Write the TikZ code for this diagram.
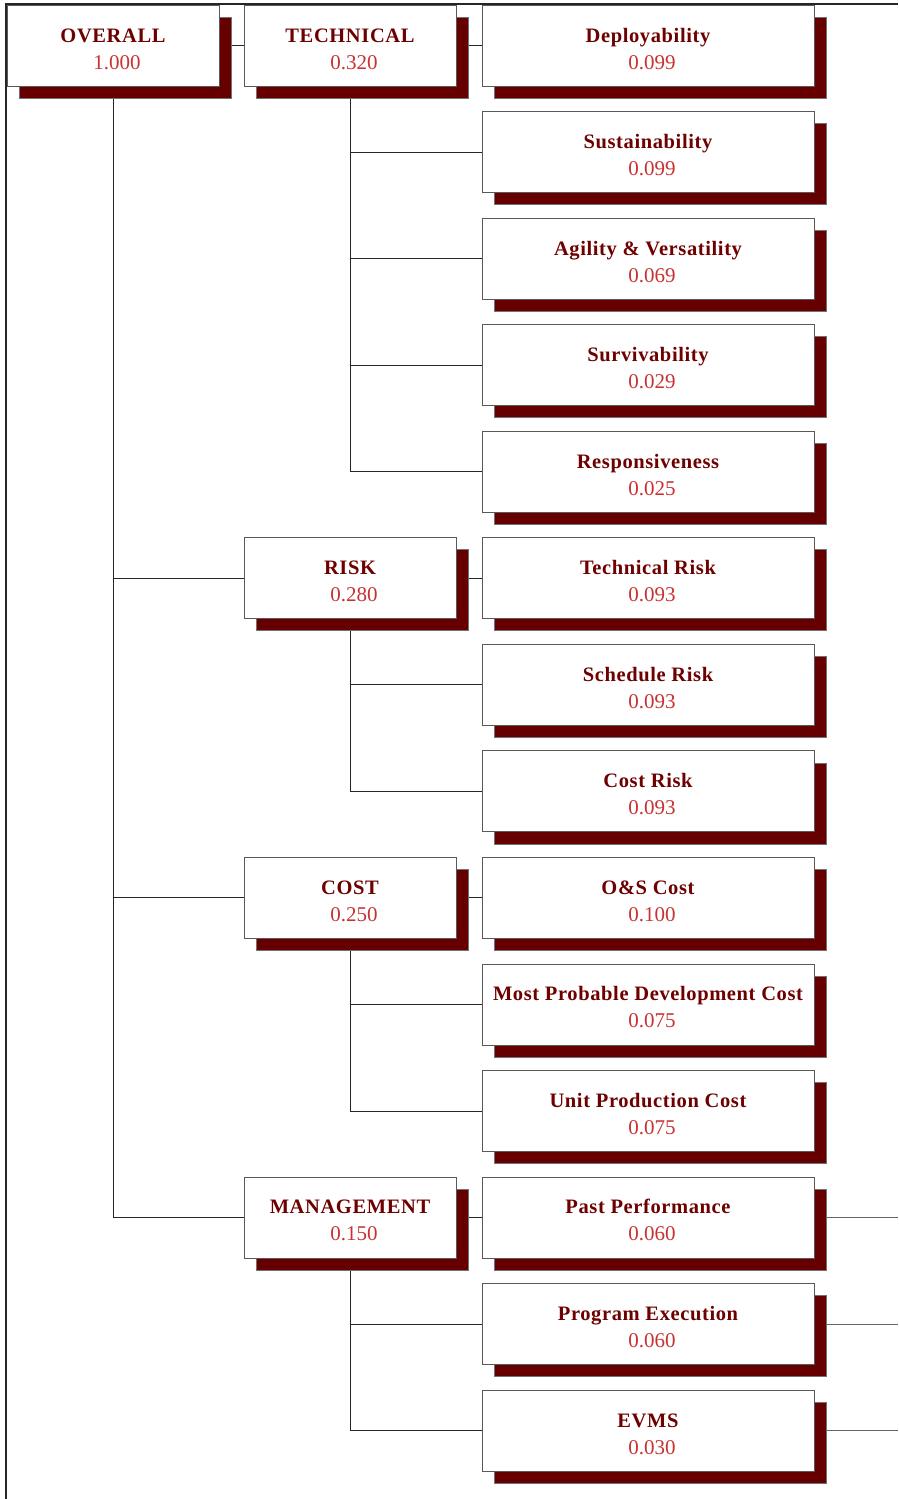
\documentclass[tikz,border=0pt]{standalone}
\usepackage{fontspec}
\setmainfont{Liberation Serif}
\newfontfamily\titfont[LetterSpace=3]{Liberation Serif}
\usetikzlibrary{shadows,calc,backgrounds}
\definecolor{titred}{HTML}{6E0000}
\definecolor{valred}{HTML}{C83232}
\definecolor{shadred}{HTML}{660000}
\tikzset{
 boxst/.style={draw=black!65, line width=0.8pt, fill=white, rectangle, minimum height=81pt, inner sep=0pt, outer sep=0pt,
   general shadow={fill=shadred, draw=black!55, line width=0.6pt, shadow xshift=12pt, shadow yshift=-12pt}},
 titst/.style={font=\titfont\fontsize{20.5}{24}\selectfont\bfseries, text=titred, inner sep=0pt, anchor=base},
 valst/.style={font=\fontsize{21}{24}\selectfont, text=valred, inner sep=0pt, anchor=base},
 conn/.style={draw=black!85, line width=0.8pt},
 framest/.style={draw=black!85, line width=1.4pt},
}
\newcommand\mkbox[6]{%
 \node[boxst, minimum width=#4pt, anchor=north west] (#1) at (#2,#3) {};
 \node[titst] (#1-t) at ($(#1.north)+(0,37)$) {#5};
 \node[valst] (#1-v) at ($(#1.north)+(4,64)$) {#6};
}
\begin{document}
\begin{tikzpicture}[x=1pt,y=-1pt]
\useasboundingbox (0,0) rectangle (898,1499);
\draw[framest] (6,1499) -- (6,4) -- (898,4);
\coordinate (redge) at (898,0);
% level 1
\mkbox{ov}{7}{5}{212}{OVERALL}{1.000}
% level 2
\mkbox{tech}{244}{5}{212}{TECHNICAL}{0.320}
\mkbox{risk}{244}{537.7}{212}{RISK}{0.280}
\mkbox{cost}{244}{857.3}{212}{COST}{0.250}
\mkbox{mgmt}{244}{1176.9}{212}{MANAGEMENT}{0.150}
% level 3
\mkbox{dep}{482}{5}{332}{Deployability}{0.099}
\mkbox{sus}{482}{111.5}{332}{Sustainability}{0.099}
\mkbox{agi}{482}{218.1}{332}{Agility \& Versatility}{0.069}
\mkbox{sur}{482}{324.6}{332}{Survivability}{0.029}
\mkbox{res}{482}{431.2}{332}{Responsiveness}{0.025}
\mkbox{trisk}{482}{537.7}{332}{Technical Risk}{0.093}
\mkbox{srisk}{482}{644.2}{332}{Schedule Risk}{0.093}
\mkbox{crisk}{482}{750.8}{332}{Cost Risk}{0.093}
\mkbox{os}{482}{857.3}{332}{O\&S Cost}{0.100}
\mkbox{mpdc}{482}{963.9}{332}{Most Probable Development Cost}{0.075}
\mkbox{upc}{482}{1070.4}{332}{Unit Production Cost}{0.075}
\mkbox{pp}{482}{1176.9}{332}{Past Performance}{0.060}
\mkbox{pe}{482}{1283.5}{332}{Program Execution}{0.060}
\mkbox{evms}{482}{1390}{332}{EVMS}{0.030}
\begin{pgfonlayer}{background}
 \draw[conn] (ov.east) -- (tech.west);
 \draw[conn] (ov.south) |- (risk.west);
 \draw[conn] (ov.south) |- (cost.west);
 \draw[conn] (ov.south) |- (mgmt.west);
 \draw[conn] (tech.east) -- (dep.west);
 \foreach \c in {sus,agi,sur,res} \draw[conn] (tech.south) |- (\c.west);
 \draw[conn] (risk.east) -- (trisk.west);
 \foreach \c in {srisk,crisk} \draw[conn] (risk.south) |- (\c.west);
 \draw[conn] (cost.east) -- (os.west);
 \foreach \c in {mpdc,upc} \draw[conn] (cost.south) |- (\c.west);
 \draw[conn] (mgmt.east) -- (pp.west);
 \foreach \c in {pe,evms} \draw[conn] (mgmt.south) |- (\c.west);
 \foreach \c in {pp,pe,evms} \draw[conn, draw=black!60] (\c.east) -- (\c.east -| redge);
\end{pgfonlayer}
\end{tikzpicture}
\end{document}
